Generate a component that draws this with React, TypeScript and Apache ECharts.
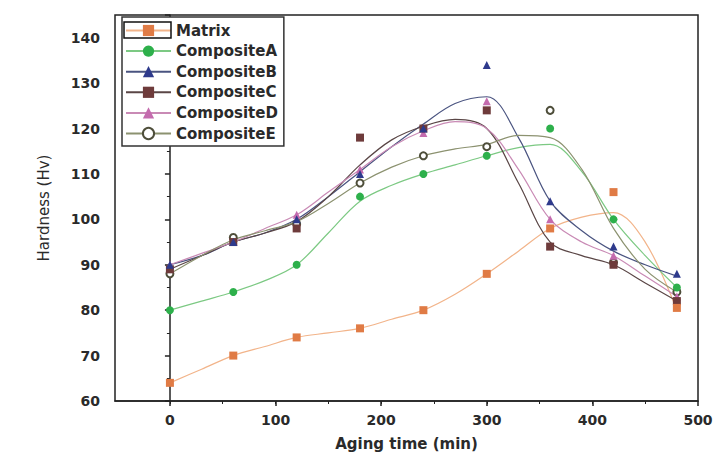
import React, { useEffect, useRef } from "react";
import * as echarts from "echarts";

const agingTime = [0, 60, 120, 180, 240, 300, 360, 420, 480];
const seriesNames = ["Matrix", "CompositeA", "CompositeB", "CompositeC", "CompositeD", "CompositeE"];
const matrix = [64, 70, 74, 76, 80, 88, 98, 106, 80.5];
const compositeA = [80, 84, 90, 105, 110, 114, 120, 100, 85];
const compositeB = [90, 95, 100, 110, 120, 134, 104, 94, 88];
const compositeC = [89, 95, 98, 118, 120, 124, 94, 90, 82];
const compositeD = [90, 95, 101, 111, 119, 126, 100, 92, 83];
const compositeE = [88, 96, 99, 108, 114, 116, 124, 90.5, 84];

// fitted curves as drawn in the figure, read every 30 min
const fitTime = [0, 30, 60, 90, 120, 150, 180, 210, 240, 270, 300, 330, 360, 390, 420, 450, 480];
const matrixFit = [64, 67, 70, 72, 74, 75, 76, 78, 80, 83.5, 88, 93, 98, 100.5, 101.5, 95, 80];
const compositeAFit = [80, 82, 84, 86.5, 90, 97, 104, 107.5, 110, 112, 114, 115.8, 116.5, 110.5, 100, 92, 85];
const compositeBFit = [90, 92, 95, 97, 100, 105, 110.5, 116, 121, 125.5, 127, 118, 104, 97.5, 93, 90, 87.5];
const compositeCFit = [89, 92, 95, 97, 99.5, 105, 112, 117.5, 120.5, 122, 120, 108, 95, 92, 90, 86, 82];
const compositeDFit = [90, 92.5, 95, 98, 101, 106, 111, 116, 119.5, 121.5, 120, 111, 100, 95, 92, 87.5, 83];
const compositeEFit = [88, 92, 95.5, 97.5, 99.5, 103.5, 108, 111.5, 114, 115.5, 116.5, 118.5, 118, 111, 98, 89, 84];

const xTickValues = [0, 100, 200, 300, 400, 500];
const xMinorTickValues = [0, 50, 100, 150, 200, 250, 300, 350, 400, 450];

const markerColors = ["#E07B45", "#2DB04B", "#2E3A8C", "#6E3B3B", "#C46BAE", "#4E4E3A"];
const lineColors = ["#F2B48A", "#7CC983", "#4A5480", "#5A4646", "#C98AB5", "#8C9270"];
const symbols = ["rect", "circle", "triangle", "rect", "triangle", "emptyCircle"];
const allValues = [matrix, compositeA, compositeB, compositeC, compositeD, compositeE];
const allFits = [matrixFit, compositeAFit, compositeBFit, compositeCFit, compositeDFit, compositeEFit];

export default function App() {
  const ref = useRef<HTMLDivElement>(null);
  useEffect(() => {
    document.body.style.margin = "0";
    if (!ref.current) return;
    const chart = echarts.init(ref.current, null, { renderer: "svg" });
    const font = "DejaVu Sans";
    const pointSeries = seriesNames.map((name, i) => ({
      name,
      type: "line",
      data: agingTime.map((t, j) => [t, allValues[i][j]]),
      symbol: symbols[i],
      symbolSize: i === 5 ? 7 : 8,
      lineStyle: { color: lineColors[i], width: 1.2, opacity: 0 },
      itemStyle: i === 5
        ? { color: markerColors[i], borderColor: markerColors[i], borderWidth: 2 }
        : { color: markerColors[i] },
      z: 20 - i,
    }));
    const fitSeries = seriesNames.map((name, i) => ({
      name: name + " fit",
      type: "line",
      data: fitTime.map((t, j) => [t, allFits[i][j]]),
      smooth: 0.35,
      showSymbol: false,
      silent: true,
      lineStyle: { color: lineColors[i], width: 1.2 },
      z: 5,
    }));
    chart.setOption({
      animation: false,
      backgroundColor: "#ffffff",
      grid: {
        left: 115,
        right: 17,
        top: 15,
        bottom: 51,
        outerBoundsMode: "none",
        containLabel: false,
        show: true,
        borderColor: "#222",
        borderWidth: 1.5,
      },
      legend: {
        orient: "vertical",
        left: 122,
        top: 17,
        padding: [6, 6, 5, 3],
        itemWidth: 45,
        itemHeight: 14,
        itemGap: 5.6,
        borderColor: "#333",
        borderWidth: 1.5,
        backgroundColor: "#fff",
        lineStyle: { opacity: 1 },
        textStyle: { fontFamily: font, fontWeight: "bold", fontSize: 15, lineHeight: 14, color: "#2a2a2a" },
        data: seriesNames,
      },
      graphic: [
        {
          type: "rect",
          shape: { x: 124, y: 22, width: 47, height: 16 },
          style: { fill: "none", stroke: "#111", lineWidth: 1.5 },
          z: 100,
        },
      ],
      xAxis: [
        {
          type: "value",
          min: -52,
          max: 500,
          position: "bottom",
          name: "Aging time (min)",
          nameLocation: "middle",
          nameGap: 35,
          nameTextStyle: { fontFamily: font, fontWeight: "bold", fontSize: 15, color: "#2a2a2a" },
          axisLine: { show: true, lineStyle: { color: "#222", width: 1.5 } },
          axisTick: { show: true, length: 5, customValues: xTickValues, lineStyle: { color: "#222", width: 1.5 } },
          axisLabel: {
            customValues: xTickValues,
            margin: 12,
            fontFamily: font,
            fontWeight: "bold",
            fontSize: 14,
            color: "#2a2a2a",
          },
          splitLine: { show: false },
        },
        {
          type: "value",
          min: -52,
          max: 500,
          position: "bottom",
          axisLine: { show: false },
          axisTick: {
            show: true,
            length: 3,
            customValues: xMinorTickValues,
            lineStyle: { color: "#222", width: 1 },
          },
          axisLabel: { show: false },
          splitLine: { show: false },
        },
      ],
      yAxis: {
        type: "value",
        min: 60,
        max: 145,
        interval: 10,
        name: "Hardness (Hv)",
        nameLocation: "middle",
        nameGap: 64,
        nameTextStyle: { fontFamily: font, fontSize: 15, color: "#2a2a2a" },
        axisLine: { show: true, lineStyle: { color: "#222", width: 1.5 } },
        axisTick: { show: true, length: 5, lineStyle: { color: "#222", width: 1.5 } },
        minorTick: { show: true, splitNumber: 2, length: 3, lineStyle: { color: "#222" } },
        axisLabel: {
          margin: 15,
          showMaxLabel: false,
          fontFamily: font,
          fontWeight: "bold",
          fontSize: 14,
          color: "#2a2a2a",
        },
        splitLine: { show: false },
        minorSplitLine: { show: false },
      },
      series: [...fitSeries, ...pointSeries],
    });
    return () => chart.dispose();
  }, []);
  return <div ref={ref} style={{ width: 715, height: 452 }} />;
}
